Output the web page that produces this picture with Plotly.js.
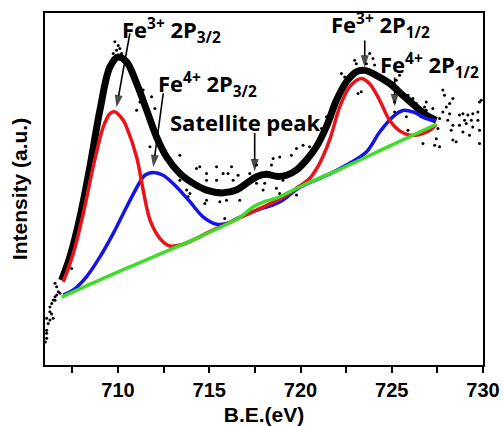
<!DOCTYPE html>
<html>
<head>
<meta charset="utf-8">
<script src="https://cdn.plot.ly/plotly-3.0.1.min.js"></script>
<style>html,body{margin:0;padding:0;background:#fff;}#chart{width:504px;height:426px;}</style>
</head>
<body>
<div id="chart"></div>
<script>
// Binding energy (eV) and intensity (a.u.)
const fitX = [706.91,707.37,707.92,708.46,709.01,709.56,710.01,710.47,711.02,711.57,712.11,712.66,713.39,714.12,714.85,715.76,716.49,717.04,717.59,718.13,718.68,719.23,719.78,720.32,720.87,721.42,721.97,722.51,723.06,723.52,724.15,724.88,725.61,726.34,726.89,727.44];
const fitY = [24.1,30.8,42.1,56.3,72.4,84.7,87.5,86.1,80.0,72.4,64.8,59.1,54.4,51.6,49.7,48.9,49.7,51.6,53.5,54.2,53.6,53.9,55.4,58.2,62.0,67.7,75.2,80.4,83.3,83.7,82.3,80.0,76.6,73.3,71.0,69.5];

const fe3X = [707.00,707.55,708.10,708.64,709.19,709.56,709.83,710.29,710.47,711.02,711.38,711.75,712.29,712.84,713.57,715.0,716.5,718.0,719.0,719.78,720.50,721.05,721.60,722.15,722.69,723.33,723.79,724.34,724.88,725.43,725.98,726.53,727.07,727.44];
const fe3Y = [23.6,31.7,43.1,56.3,67.6,71.4,71.9,69.5,67.6,59.1,49.7,41.2,36.0,33.8,34.3,37.8,41.4,45.0,47.5,50.2,53.0,57.3,64.0,73.3,79.0,81.4,79.9,75.2,69.5,66.5,65.3,65.5,66.6,68.4];

const fe4X = [707.00,707.55,708.28,709.01,709.74,710.47,711.20,711.47,711.93,712.47,713.21,713.94,714.66,715.40,715.95,716.49,717.04,717.77,718.50,719.04,719.96,721.60,722.69,723.61,724.34,725.06,725.61,726.16,726.89,727.44];
const fe4Y = [19.9,21.3,25.1,30.7,37.4,44.9,52.0,53.9,54.7,53.9,50.6,46.4,42.1,40.0,40.2,41.5,42.8,44.3,45.5,46.9,50.5,54.3,57.3,60.5,66.2,70.5,72.3,71.9,70.0,69.4];

const bgX = [706.91,709.01,711.20,713.94,715.76,716.67,717.40,717.95,718.68,719.41,720.32,722.15,724.88,727.44];
const bgY = [19.3,24.2,29.1,35.2,39.5,41.9,44.9,46.3,47.4,49.2,51.5,55.6,62.2,68.4];

const rawX = [706.55,706.73,706.82,706.64,706.55,706.45,706.37,706.27,706.27,706.09,706.45,706.18,706.09,706.09,707.46,706.09,706.27,706.55,706.64,706.02,706.36,
709.83,710.01,709.92,710.10,709.74,710.20,711.38,711.84,711.02,712.02,711.20,711.57,712.02,712.29,712.57,713.02,714.48,713.39,714.85,715.40,714.76,715.95,716.31,713.84,716.22,
711.75,713.39,714.30,715.40,715.76,716.03,716.58,714.85,717.22,717.59,718.50,718.41,718.86,719.50,719.78,720.14,720.50,713.76,713.94,714.85,715.58,716.67,715.85,718.68,718.86,717.95,718.04,717.59,719.04,719.78,
723.79,723.97,722.97,723.06,723.61,724.06,722.42,722.24,723.33,723.15,724.98,725.25,725.43,725.34,726.16,725.89,726.34,725.80,725.89,725.16,725.16,721.15,721.42,726.89,726.62,
727.80,727.89,728.35,728.17,727.99,727.80,726.89,726.80,727.25,728.71,728.90,729.17,729.44,729.36,729.08,729.44,728.71,728.35,728.26,728.90,729.26,729.81,729.72,729.81,729.81,728.53,727.53,727.44,727.35,729.72,728.07,728.17,727.62,728.99,727.62,726.71,728.35,729.90];
const rawY = [23.2,20.8,20.4,19.9,19.4,18.5,17.5,16.5,15.1,13.3,13.3,11.8,9.9,7.6,27.4,9.0,12.8,18.4,22.2,6.5,14.5,
91.8,90.8,89.4,89.9,88.5,88.5,78.1,76.2,72.4,72.9,74.7,73.3,66.2,63.9,61.0,56.3,56.3,52.5,52.5,52.5,45.9,46.8,52.5,47.8,56.3,
62.0,59.6,55.8,56.3,54.4,54.4,53.9,54.4,54.4,56.8,58.7,56.8,59.1,59.6,61.5,62.4,62.0,49.7,48.7,46.8,46.4,46.8,41.6,50.2,48.7,49.7,51.6,51.6,52.5,48.3,
88.5,87.1,86.6,85.6,85.6,85.2,81.8,82.8,77.6,77.1,80.0,80.9,82.3,78.1,75.7,76.6,74.3,70.5,66.7,74.7,71.9,67.2,70.5,72.4,70.5,
78.1,76.6,75.7,74.3,73.3,71.9,74.7,73.3,72.9,71.0,71.4,71.0,71.4,69.5,68.6,67.6,68.1,68.1,66.7,66.2,65.3,66.7,69.5,74.7,62.9,63.4,67.2,64.3,62.4,71.9,69.5,71.4,70.0,69.5,62.0,62.9,63.9,75.2];

// Peak labels and their arrow anchors
const labelText = ['Fe<sup>3+</sup> 2P<sub>3/2</sub>','Fe<sup>4+</sup> 2P<sub>3/2</sub>','Satellite peak','Fe<sup>3+</sup> 2P<sub>1/2</sub>','Fe<sup>4+</sup> 2P<sub>1/2</sub>'];
const labelX = [712.95,714.92,717.0,724.39,727.05];
const labelY = [95.1,79.8,69.0,96.5,85.2];
const arrowTailX = [710.65,712.48,717.49,723.52,725.16];
const arrowTailY = [94.2,77.2,65.9,92.2,81.7];
const arrowHeadX = [709.92,711.93,717.49,723.52,725.16];
const arrowHeadY = [73.2,56.2,55.0,84.5,73.5];

const traces = [
  {x: rawX, y: rawY, mode: 'markers', type: 'scatter', marker: {color: 'black', size: 3}, hoverinfo: 'skip'},
  {x: fitX, y: fitY, mode: 'lines', type: 'scatter', line: {color: 'black', width: 7, shape: 'spline', smoothing: 1}},
  {x: fe4X, y: fe4Y, mode: 'lines', type: 'scatter', line: {color: '#1414e6', width: 3.5, shape: 'spline', smoothing: 0.9}},
  {x: fe3X, y: fe3Y, mode: 'lines', type: 'scatter', line: {color: '#e8141a', width: 3.5, shape: 'spline', smoothing: 0.9}},
  {x: bgX, y: bgY, mode: 'lines', type: 'scatter', line: {color: '#3fdc2a', width: 3.5, shape: 'spline', smoothing: 0.9}}
];
for (let i = 0; i < labelText.length; i++) {
  traces.push({x: [arrowTailX[i], arrowHeadX[i]], y: [arrowTailY[i], arrowHeadY[i]], mode: 'lines+markers', type: 'scatter',
    line: {color: 'black', width: 1.6},
    marker: {symbol: 'arrow', size: [0, 13], angleref: 'previous', color: 'black', line: {width: 0}}, hoverinfo: 'skip'});
}

const annFont = {family: 'Open Sans, sans-serif', size: 22, color: 'black', weight: 'bold'};
const annotations = labelText.map((t, i) => ({x: labelX[i], y: labelY[i], xref: 'x', yref: 'y', text: t,
  showarrow: false, font: annFont, xanchor: 'center', yanchor: 'middle'}));

const axisFont = {family: 'Liberation Sans, Arial, sans-serif', size: 20, color: 'black', weight: 'bold'};
const layout = {
  width: 504, height: 426,
  margin: {l: 45, r: 21, t: 13, b: 61},
  paper_bgcolor: 'white', plot_bgcolor: 'white',
  showlegend: false,
  xaxis: {
    range: [706, 730], tick0: 710, dtick: 5, ticks: 'outside', ticklen: 6, tickwidth: 2, tickcolor: 'black',
    showline: true, linewidth: 2, linecolor: 'black', mirror: true, showgrid: false, zeroline: false,
    tickfont: axisFont,
    minor: {dtick: 2.5, tick0: 710, ticks: 'outside', ticklen: 6, tickwidth: 2, tickcolor: 'black', showgrid: false},
    title: {text: 'B.E.(eV)', font: {family: 'Liberation Sans, Arial, sans-serif', size: 21, color: 'black', weight: 'bold'}, standoff: 8}
  },
  yaxis: {
    range: [0, 100], showticklabels: false, ticks: '',
    showline: true, linewidth: 2, linecolor: 'black', mirror: true, showgrid: false, zeroline: false,
    title: {text: 'Intensity (a.u.)', font: {family: 'Liberation Sans, Arial, sans-serif', size: 21, color: 'black', weight: 'bold'}, standoff: 10}
  },
  annotations: annotations
};

Plotly.newPlot('chart', traces, layout, {displayModeBar: false, staticPlot: true});
</script>
</body>
</html>
